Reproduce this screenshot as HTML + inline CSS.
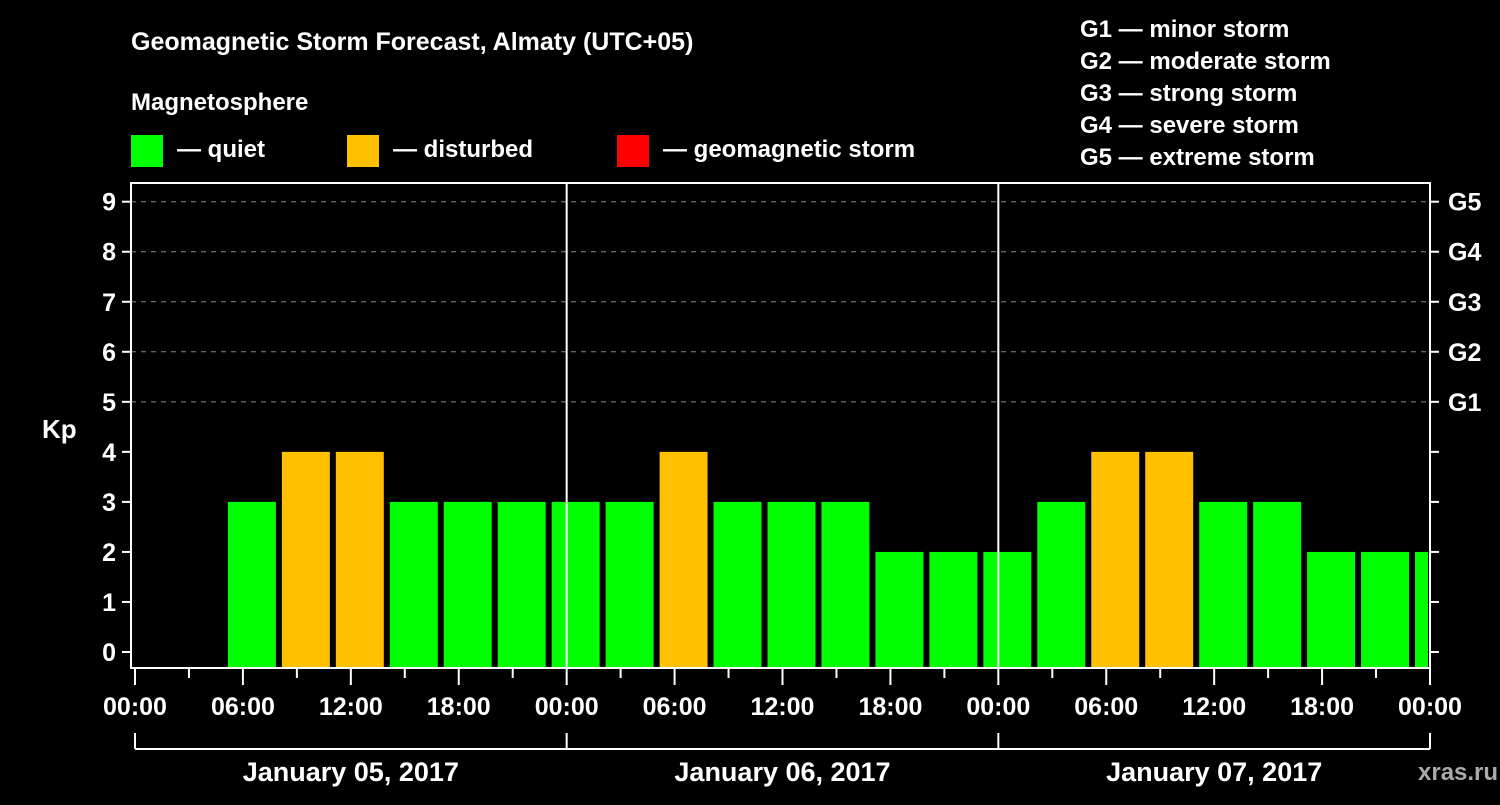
<!DOCTYPE html>
<html><head><meta charset="utf-8"><style>
body{margin:0;background:#000;width:1500px;height:800px;overflow:hidden}
svg text{font-family:"Liberation Sans",sans-serif;font-weight:bold;fill:#fff}
</style></head><body>
<svg id="c" width="1500" height="800">
<text x="131" y="50" font-size="25">Geomagnetic Storm Forecast, Almaty (UTC+05)</text>
<text x="131" y="110" font-size="24">Magnetosphere</text>
<g><rect x="131" y="135" width="32" height="32" fill="#00ff00"/><text x="177" y="157" font-size="24">— quiet</text></g>
<g><rect x="347" y="135" width="32" height="32" fill="#ffc000"/><text x="393" y="157" font-size="24">— disturbed</text></g>
<g><rect x="617" y="135" width="32" height="32" fill="#ff0000"/><text x="663" y="157" font-size="24">— geomagnetic storm</text></g>
<g font-size="24">
<text x="1080" y="37">G1 — minor storm</text><text x="1080" y="69">G2 — moderate storm</text><text x="1080" y="101">G3 — strong storm</text><text x="1080" y="133">G4 — severe storm</text><text x="1080" y="165">G5 — extreme storm</text></g>
<text x="42" y="438" font-size="26">Kp</text>
<text x="1418" y="780" font-size="24" fill="#999" style="fill:#aaa">xras.ru</text>
<g id="g"></g>
</svg>
<script>
const kpValues=[3,4,4,3,3,3,3,3,4,3,3,3,2,2,2,3,4,4,3,3,2,2,2];
const startHour=5;
const dayLabels=["January 05, 2017","January 06, 2017","January 07, 2017"];
const yTicks=[0,1,2,3,4,5,6,7,8,9];
const gLabels=["G1","G2","G3","G4","G5"];
const xTickLabels=["00:00","06:00","12:00","18:00"];
const L=131,X0=135,R=1430,T=183,B=668;
const hx=h=>X0+h*(R-X0)/72;
const yv=v=>652-v*(652-201.7)/9;
const ns="http://www.w3.org/2000/svg",g=document.getElementById('g');
function el(t,a,txt){const e=document.createElementNS(ns,t);for(const k in a)e.setAttribute(k,a[k]);if(txt!=null)e.textContent=txt;g.appendChild(e);return e;}
yTicks.forEach(v=>{const y=yv(v);
 if(v>=5){const d=el('line',{x1:L,x2:R,y1:y,y2:y,stroke:'#888','stroke-dasharray':'5,5'});}
 el('line',{x1:L-9,x2:L,y1:y,y2:y,stroke:'#fff','stroke-width':2});
 el('line',{x1:R,x2:R+9,y1:y,y2:y,stroke:'#fff','stroke-width':2});
 const t=el('text',{x:L-15,y:y+9,'font-size':25,'text-anchor':'end'},v);
 
 if(v>=5){const t2=el('text',{x:R+18,y:y+9,'font-size':25},gLabels[v-5]);}
});
kpValues.forEach((v,i)=>{const h0=startHour+i*3;const x1=hx(h0)+3,x2=Math.min(hx(h0+3)-3,R-2);
 const c=v>=5?'#ff0000':v>=4?'#ffc000':'#00ff00';
 const r=el('rect',{x:x1,y:yv(v),width:Math.max(0,x2-x1),height:B-yv(v),fill:c});
 });
[1,2].forEach(d=>{const x=hx(d*24);el('line',{x1:x,x2:x,y1:T,y2:B,stroke:'#fff','stroke-width':2});});
const f=el('rect',{x:L,y:T,width:R-L,height:B-T,fill:'none',stroke:'#fff','stroke-width':2});

for(let h=0;h<=72;h+=3){const x=hx(h);el('line',{x1:x,x2:x,y1:B,y2:h%6?678:685,stroke:'#fff','stroke-width':2});
 if(h%6==0){const t=el('text',{x:x,y:715,'font-size':25,'text-anchor':'middle'},xTickLabels[(h/6)%4]);}}
el('line',{x1:X0,x2:R,y1:749,y2:749,stroke:'#fff','stroke-width':2});
for(let d=0;d<=3;d++){const x=hx(d*24);el('line',{x1:x,x2:x,y1:733,y2:749,stroke:'#fff','stroke-width':2});}
dayLabels.forEach((s,d)=>{const t=el('text',{x:hx(d*24+12),y:781,'font-size':27,'text-anchor':'middle'},s);});
</script>
</body></html>
